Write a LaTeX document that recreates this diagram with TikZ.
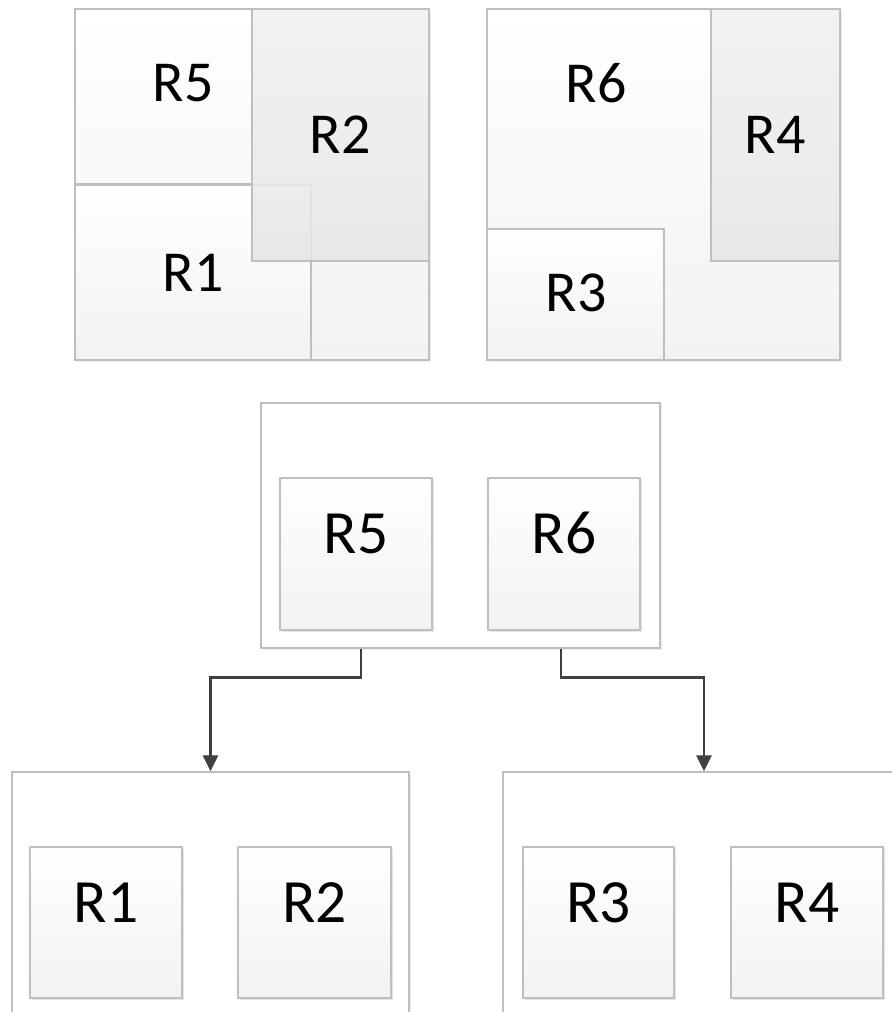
\documentclass[tikz,border=0pt]{standalone}
\usepackage{fontspec}
\setmainfont{Carlito}
\usetikzlibrary{arrows.meta,fit,shadows}
\definecolor{boxline}{HTML}{BFBFBF}
\definecolor{boxtop}{HTML}{FFFFFF}
\definecolor{boxbot}{HTML}{F2F2F2}
\definecolor{darktop}{HTML}{F0F0F0}
\definecolor{darkbot}{HTML}{E6E6E6}
\definecolor{arrowgray}{HTML}{404040}
\tikzstyle{region}=[draw=boxline, line width=0.8pt
,top color=boxtop, bottom color=boxbot
,inner sep=0pt
]
\tikzstyle{darkregion}=[region, top color=darktop, bottom color=darkbot, fill opacity=0.85]
\tikzstyle{rect}=[region
,drop shadow={shadow xshift=1.2pt, shadow yshift=-1.2pt, opacity=0.2}
,font=\fontsize{35}{40}\selectfont
]
\tikzstyle{frame}=[draw=boxline, fill=white, line width=0.8pt, inner sep=0pt
,drop shadow={shadow xshift=1.2pt, shadow yshift=-1.2pt, opacity=0.15}
]
\tikzstyle{rlabel}=[font=\fontsize{33}{38}\selectfont]
\tikzstyle{link} = [draw=arrowgray, line width=1.6pt, -{Triangle[length=9pt,width=8.5pt]}]

\begin{document}
\begin{tikzpicture}[x=0.02cm,y=-0.02cm]
    \clip (0,0) rectangle (892,1012);
    % Left square: R5, R1 and R2 overlapping
    \node[region, drop shadow={shadow xshift=1.2pt, shadow yshift=-1.2pt, opacity=0.15}, fit={(75,9) (429,360)}] (sqA) {};
    \node[region, bottom color=boxtop!50!boxbot, fit={(75,9) (252,184)}] (aR5) {};
    \node[region, fit={(75,185) (311,360)}] (aR1) {};
    \node[darkregion, fit={(252,9) (429,261)}] (aR2) {};
    % Right square: R6 holds R3 and R4
    \node[region, drop shadow={shadow xshift=1.2pt, shadow yshift=-1.2pt, opacity=0.15}, fit={(487,9) (840,360)}] (bR6) {};
    \node[region, fit={(487,229) (664,360)}] (bR3) {};
    \node[darkregion, fit={(711,9) (840,261)}] (bR4) {};
    % Labels of the regions
    \foreach \pos/\name/\txt in {{(183,83)}/tR5/R5, {(340,135)}/tR2/R2, {(193,273)}/tR1/R1,
                                 {(596,83)}/tR6/R6, {(775,135)}/tR4/R4, {(576,293)}/tR3/R3}
        \node[rlabel] (\name) at \pos {\txt};

    % Tree: root and two children
    \node[frame, fit={(261,403) (660,648)}] (root) {};
    \node[frame, fit={(12,772) (409,1040)}] (left) {};
    \node[frame, fit={(503,772) (905,1040)}] (right) {};
    \foreach \pos/\name/\txt in {{(280,478) (432,630)}/mR5/R5, {(488,478) (640,630)}/mR6/R6,
                                 {(30,847) (182,998)}/lR1/R1, {(238,847) (391,998)}/lR2/R2,
                                 {(523,847) (674,998)}/rR3/R3, {(731,847) (883,998)}/rR4/R4}
        \node[rect, fit={\pos}] (\name) {\txt};

    % Connect root with children
    \path[link] ([xshift=5*0.02cm]root.south -| mR5) -- ++(0,29) -| (left.north);
    \path[link] ([xshift=-3*0.02cm]root.south -| mR6) -- ++(0,29) -| (right.north);
\end{tikzpicture}
\end{document}
